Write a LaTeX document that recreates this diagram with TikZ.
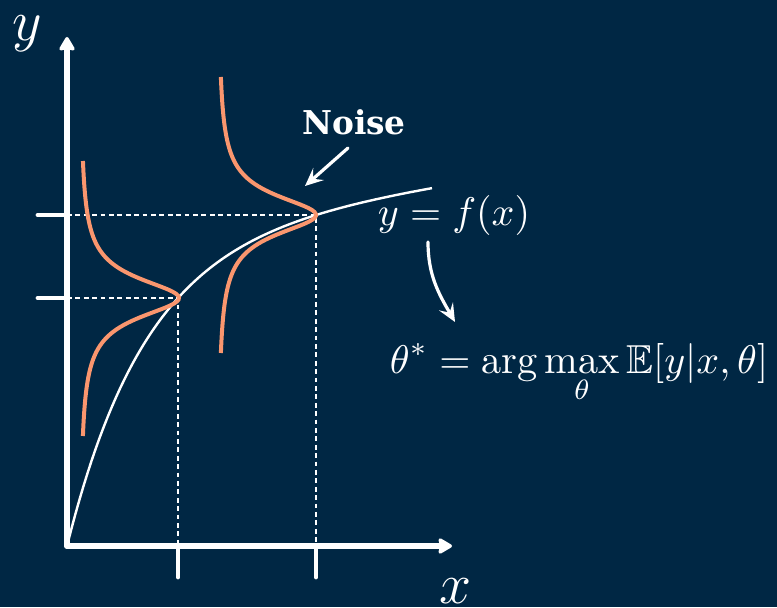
\documentclass[tikz,border=0pt]{standalone}
\usepackage{amssymb,amsmath}
\usepackage{fontspec}
\newfontfamily\noisefont{DejaVu Serif}
\usetikzlibrary{arrows.meta}
\definecolor{navy}{RGB}{0,39,68}
\definecolor{salmon}{RGB}{250,150,110}

\begin{document}
\begin{tikzpicture}[x=0.25pt,y=-0.25pt,
    axis/.style={white,line width=1.4pt,line cap=round,
      -{Stealth[length=4pt,width=4.6pt,inset=0.6pt,round]}},
    tickmark/.style={white,line width=1.2pt,line cap=round},
    guide/.style={white,line width=0.3pt,dash pattern=on 1.2pt off 0.9pt},
    fcurve/.style={white,line width=0.6pt},
    bell/.style={salmon,line width=1pt},
    pointer/.style={white,line width=0.8pt,line cap=round,
      -{Stealth[length=4.5pt,width=4pt,inset=1.8pt]}},
    lbl/.style={text=white,inner sep=0pt}]
\fill[navy] (0,0) rectangle (777,607);
\useasboundingbox (0,0) rectangle (777,607);
\coordinate (O) at (67,546);
\coordinate (ytop) at (67,37);
\coordinate (xend) at (452,546);
\coordinate (p1) at (178,298);
\coordinate (p2) at (316,215);
% dashed guides
\draw[guide] (p1 -| O) -- (p1) -- (p1 |- O);
\draw[guide] (p2 -| O) -- (p2) -- (p2 |- O);
% curve and noise
\draw[fcurve] plot[domain=0:365,samples=90]
  ({67+\x},{546-309.6*(1-exp(-\x/80))-0.141*\x});
\draw[bell] plot[domain=-137:138,samples=140]
  ({80+99/(1+(\x/24)*(\x/24))},{298+\x});
\draw[bell] plot[domain=-138:138,samples=140]
  ({218+98/(1+(\x/24)*(\x/24))},{215+\x});
% axes
\draw[axis] (O) -- (ytop);
\draw[axis] (O) -- (xend);
\draw[tickmark] (p1 -| O) -- ++(-29,0);
\draw[tickmark] (p2 -| O) -- ++(-29,0);
\draw[tickmark] (p1 |- O) -- ++(0,31);
\draw[tickmark] (p2 |- O) -- ++(0,31);
\node[lbl] (ylbl) at (27,34) {\fontsize{14}{16}\selectfont $y$};
\node[lbl] (xlbl) at (456,591) {\fontsize{14}{16}\selectfont $x$};
% labels
\node[lbl,anchor=base] (noiselbl) at (354,135)
  {\noisefont\bfseries\fontsize{8.2}{10}\selectfont Noise};
\coordinate (nstart) at (348,148);
\coordinate (ntip) at (305,186);
\draw[pointer] (nstart) -- (ntip);
\node[lbl,anchor=base] (flbl) at (454,226)
  {\fontsize{9.8}{12}\selectfont $y = f(x)$};
\coordinate (cstart) at (428,242);
\coordinate (ctip) at (455,322);
\draw[pointer] (cstart) to[out=-90,in=120] (ctip);
\node[lbl,anchor=base] (thetalbl) at (579,373)
  {\fontsize{10.1}{12}\selectfont $\displaystyle \theta^* = \arg\max_\theta \mathbb{E}[y|x,\theta]$};
\end{tikzpicture}
\end{document}
